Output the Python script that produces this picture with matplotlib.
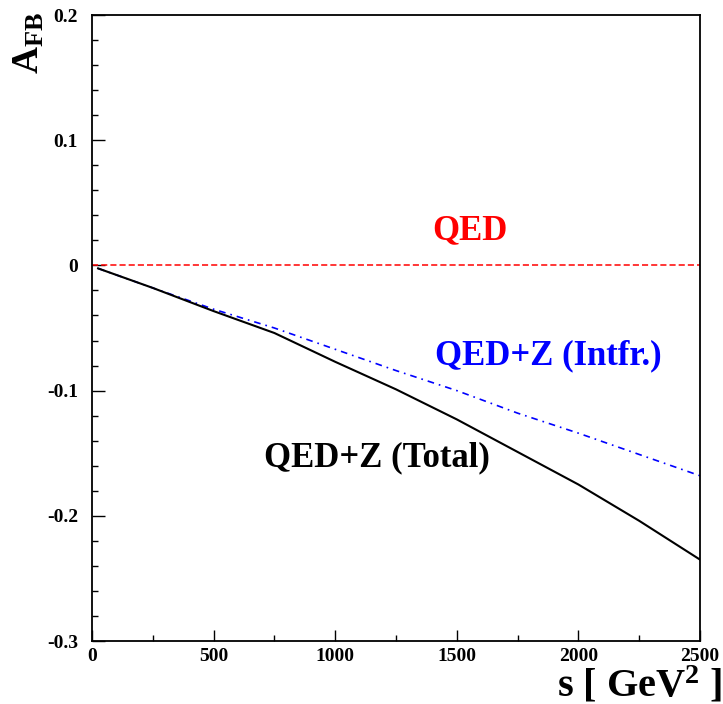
import matplotlib
matplotlib.use("Agg")
import matplotlib.pyplot as plt
from matplotlib.ticker import MultipleLocator

# values
s_vals = [25, 250, 500, 750, 1000, 1250, 1500, 1750, 2000, 2250, 2500]
afb_total = [-0.0024, -0.018, -0.0365, -0.054, -0.077, -0.099, -0.123, -0.149, -0.175, -0.204, -0.235]
afb_intfr = [-0.0024, -0.018, -0.035, -0.050, -0.067, -0.084, -0.100, -0.118, -0.134, -0.151, -0.168]
s_qed = [0, 2500]
afb_qed = [0.0, 0.0]

x_ticks = [0, 500, 1000, 1500, 2000, 2500]
y_ticks = [-0.3, -0.2, -0.1, 0, 0.1, 0.2]
y_ticklabels = ["-0.3", "-0.2", "-0.1", "0", "0.1", "0.2"]

plt.rcParams['font.family'] = 'Liberation Serif'
plt.rcParams['font.weight'] = 'bold'
plt.rcParams['mathtext.fontset'] = 'custom'
plt.rcParams['mathtext.rm'] = 'Liberation Serif:bold'
plt.rcParams['mathtext.it'] = 'Liberation Serif:bold'
plt.rcParams['mathtext.bf'] = 'Liberation Serif:bold'

fig = plt.figure(figsize=(7.23, 7.04), dpi=100)
ax = fig.add_axes([92/723, 63/704, 608/723, 626/704])

ax.plot(s_qed, afb_qed, color='#ff0000', lw=1.1, linestyle=(0, (4, 2)))
ax.plot(s_vals, afb_intfr, color='#0000ff', lw=1.2, linestyle=(0, (4, 3, 1, 3)))
ax.plot(s_vals, afb_total, color='black', lw=1.5)

ax.set_xlim(0, 2500)
ax.set_ylim(-0.3, 0.2)
ax.set_xticks(x_ticks)
ax.set_xticklabels([str(v) for v in x_ticks])
ax.set_yticks(y_ticks)
ax.set_yticklabels(y_ticklabels)
ax.xaxis.set_minor_locator(MultipleLocator(250))
ax.yaxis.set_minor_locator(MultipleLocator(0.02))
ax.tick_params(which='both', direction='in', top=False, right=False, labelsize=14, width=1.0)
ax.tick_params(axis='y', which='major', length=9, pad=10)
ax.tick_params(axis='x', which='major', length=8, pad=5)
ax.tick_params(which='minor', length=4.5)
for sp in ax.spines.values():
    sp.set_linewidth(1.3)

ax.text(1555, 0.028, "QED", color='#ff0000', fontsize=25, ha='center', va='center')
ax.text(1875, -0.072, "QED+Z (Intfr.)", color='#0000ff', fontsize=25, ha='center', va='center')
ax.text(1170, -0.154, "QED+Z (Total)", color='black', fontsize=25, ha='center', va='center')

fig.text(0.999, 1 - 696/704, r"s [ GeV$^{2}$ ]", fontsize=29, ha='right', va='baseline')
fig.text(0.04, 1 - 12/704, r"$\mathrm{A}_{\mathrm{FB}}$", fontsize=27, rotation=90, ha='center', va='top')

fig.savefig("out.png", dpi=100)
